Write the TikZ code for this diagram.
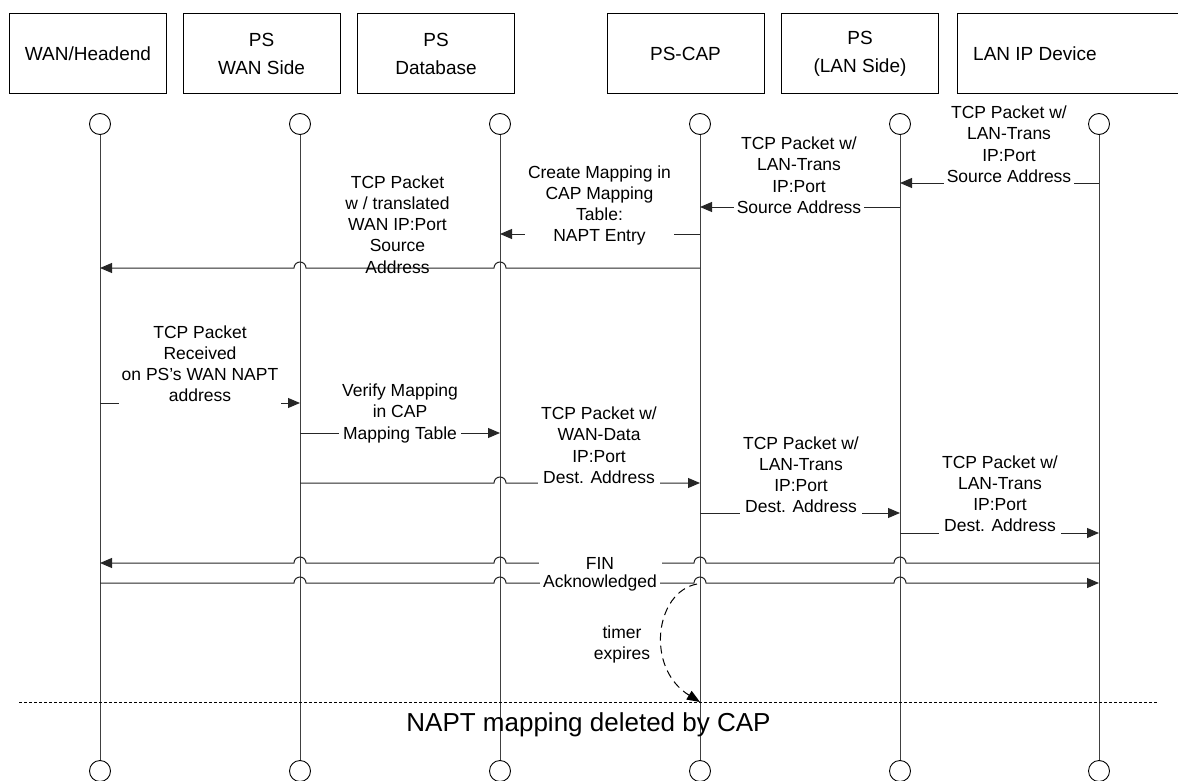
\documentclass[tikz,border=0pt]{standalone}
\usepackage{fontspec}
\setmainfont{Liberation Sans}
\usetikzlibrary{arrows.meta,calc}
\begin{document}
\begin{tikzpicture}[x=1pt,y=-1pt,
  hdr/.style={draw=black,line width=1pt,minimum width=157pt,minimum height=80pt,inner sep=0pt,align=center,font=\fontsize{19}{27.5}\selectfont},
  hfont/.style={inner sep=0pt,align=center,font=\fontsize{19}{27.5}\selectfont},
  lifec/.style={circle,draw=black,line width=0.9pt,minimum size=21pt,inner sep=0pt,fill=white},
  life/.style={draw=black!75,line width=1pt},
  msg/.style={draw=black!85,line width=1pt,-{Triangle[length=12pt,width=10pt]}},
  lab/.style={font=\fontsize{17.5}{21.2}\selectfont,align=center,inner xsep=3pt,inner ysep=0pt,anchor=north,yshift=14.84pt},
  labw/.style={lab,fill=white},
  small/.style={font=\fontsize{17.5}{21.2}\selectfont,inner xsep=3pt,inner ysep=1pt,fill=white}
]
\useasboundingbox (0,0) rectangle (1178,781);
\clip (0,0) rectangle (1178,781);

% header boxes
\node[hdr] (h1) at (88,54) {WAN/Headend};
\node[hdr] (h2) at (261.5,54) {PS\\WAN Side};
\node[hdr] (h3) at (436,54) {PS\\Database};
\node[hdr] (h4) at (685.5,54) {PS-CAP};
\node[hdr] (h5) at (860,54) {PS\\(LAN Side)};
\node[hdr,minimum width=260pt,anchor=west] (h6) at (957,54) {};
\node[hfont] (h6t) at (1035,54) {LAN IP Device};

% lifeline circles
\foreach \i/\x in {1/100,2/300,3/500,4/700,5/900,6/1099}{
  \node[lifec] (c\i) at (\x,124) {};
  \node[lifec] (e\i) at (\x,771) {};
}
\foreach \i in {1,...,6}{ \draw[life] (c\i) -- (e\i); }

% message 1: LAN IP Device -> PS LAN
\draw[msg] (c6.center |- 0,183) -- (c5.center |- 0,183);
\node[labw] (l1) at (1009,118.5) {\strut TCP Packet w/\\LAN-Trans\\IP:Port\\Source Address\strut};

% message 2: PS LAN -> PS-CAP
\draw[msg] (c5.center |- 0,207) -- (c4.center |- 0,207);
\node[labw] (l2) at (799,149.5) {\strut TCP Packet w/\\LAN-Trans\\IP:Port\\Source Address\strut};

% message 3: PS-CAP -> PS Database
\draw[msg] (c4.center |- 0,234) -- (c3.center |- 0,234);
\node[labw] (l3) at (599.5,178) {\strut Create Mapping in\\CAP Mapping\\Table:\\NAPT Entry\strut};

% message 4: PS-CAP -> WAN/Headend
\draw[msg] (c4.center |- 0,268) -- (506,268) arc[start angle=0,end angle=180,radius=6pt]
  -- (306,268) arc[start angle=0,end angle=180,radius=6pt] -- (c1.center |- 0,268);
\node[lab] (l4) at (397.5,188) {\strut TCP Packet\\w / translated\\WAN IP:Port\\Source\\Address\strut};

% message 5: WAN/Headend -> PS WAN
\draw[msg] (c1.center |- 0,403) -- (c2.center |- 0,403);
\node[labw] (l5) at (200,338) {\strut TCP Packet\\Received\\on PS's WAN NAPT\\address\strut};

% message 6: PS WAN -> PS Database
\draw[msg] (c2.center |- 0,433) -- (c3.center |- 0,433);
\node[labw] (l6) at (400,396.5) {\strut Verify Mapping\\in CAP\\Mapping Table\strut};

% message 7: PS WAN -> PS-CAP
\draw[msg] (c2.center |- 0,483) -- (494,483) arc[start angle=180,end angle=0,radius=6pt] -- (c4.center |- 0,483);
\node[labw] (l7) at (599,419.5) {\strut TCP Packet w/\\WAN-Data\\IP:Port\\Dest. Address\strut};

% message 8: PS-CAP -> PS LAN
\draw[msg] (c4.center |- 0,513) -- (c5.center |- 0,513);
\node[labw] (l8) at (801,449) {\strut TCP Packet w/\\LAN-Trans\\IP:Port\\Dest. Address\strut};

% message 9: PS LAN -> LAN IP Device
\draw[msg] (c5.center |- 0,533) -- (c6.center |- 0,533);
\node[labw] (l9) at (1000,468) {\strut TCP Packet w/\\LAN-Trans\\IP:Port\\Dest. Address\strut};

% FIN
\draw[msg] (c6.center |- 0,563) -- (906,563) arc[start angle=0,end angle=180,radius=6pt]
  -- (706,563) arc[start angle=0,end angle=180,radius=6pt]
  -- (506,563) arc[start angle=0,end angle=180,radius=6pt]
  -- (306,563) arc[start angle=0,end angle=180,radius=6pt]
  -- (c1.center |- 0,563);
\node[small,minimum width=123pt] (fin) at (600,563) {FIN};

% Acknowledged
\draw[msg] (c1.center |- 0,583) -- (294,583) arc[start angle=180,end angle=0,radius=6pt]
  -- (494,583) arc[start angle=180,end angle=0,radius=6pt]
  -- (694,583) arc[start angle=180,end angle=0,radius=6pt]
  -- (894,583) arc[start angle=180,end angle=0,radius=6pt]
  -- (c6.center |- 0,583);
\node[small,inner ysep=0pt] (ack) at (600,583) {Acknowledged};

% dotted separator
\coordinate (dl) at (19,702);
\coordinate (dr) at (1157,702);
\draw[black,line width=1pt,dash pattern=on 3pt off 2pt] (dl) -- (dr);

% timer
\coordinate (ts) at (697,584);
\draw[black,line width=1pt,dash pattern=on 8pt off 5pt,-{Triangle[length=13pt,width=10pt]}]
  (ts) .. controls (655,592) and (645,668) .. (c4.center |- dl);
\node[lab] (timer) at (622,638) {\strut timer\\expires\strut};

% caption
\node[font=\fontsize{26}{31}\selectfont,anchor=base,inner sep=0pt] (napt) at (588.5,731) {NAPT mapping deleted by CAP};
\end{tikzpicture}
\end{document}
